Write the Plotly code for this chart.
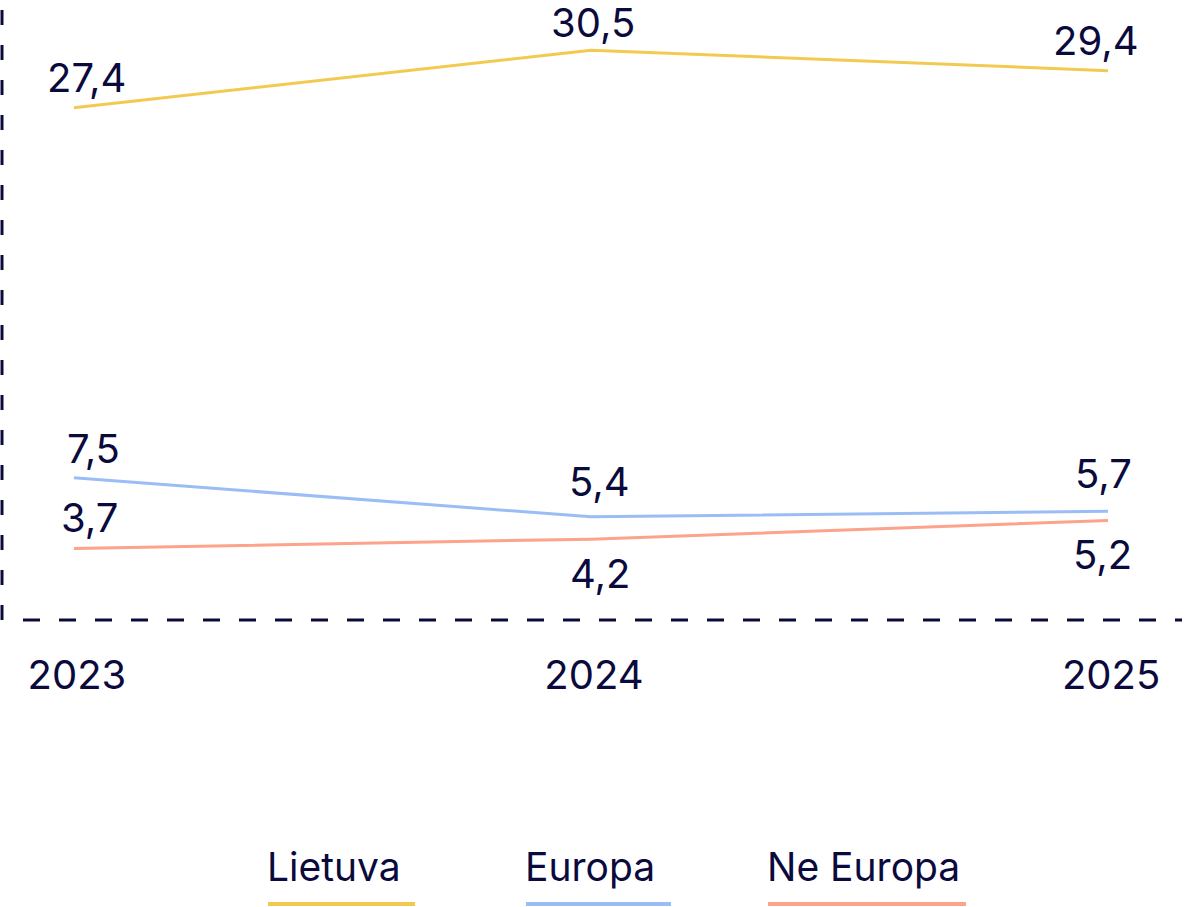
import plotly.graph_objects as go

# data
years = [2023, 2024, 2025]
series_names = ["Lietuva", "Europa", "Ne Europa"]
lietuva = [27.4, 30.5, 29.4]
europa = [7.5, 5.4, 5.7]
ne_europa = [3.7, 4.2, 5.2]
tick_labels = ["2023", "2024", "2025"]

colors = ["#F2CA52", "#9BBDF5", "#FCA38A"]
navy = "#0A0A3C"
font_family = "Inter"

W, H = 1200, 907
ML, MR, MT, MB = 2, 18, 0, 287
PW, PH = W - ML - MR, H - MT - MB


def px_x(px):
    return (px - ML) / PW


def px_y(py):
    return (H - MB - py) / PH


fig = go.Figure()

values = [lietuva, europa, ne_europa]
for name, vals, col in zip(series_names, values, colors):
    fig.add_trace(go.Scatter(
        x=years, y=vals, mode="lines", name=name,
        line=dict(color=col, width=3),
        showlegend=False, hoverinfo="skip",
    ))

# value labels (offsets in px: xshift, yshift)
label_shifts = [
    [(13, 30), (2, 28), (-12, 30)],
    [(20, 29), (9, 35), (-5, 38)],
    [(16, 31), (9, -34), (-6, -34)],
]
annotations = []
for vals, shifts in zip(values, label_shifts):
    for x, v, (dx, dy) in zip(years, vals, shifts):
        annotations.append(dict(
            x=x, y=v, xref="x", yref="y",
            text=f"{v:.1f}".replace(".", ","),
            showarrow=False, xshift=dx, yshift=dy,
            font=dict(family=font_family, size=40, color=navy),
        ))

# custom legend: text above a coloured line
legend_px = [(268, 415), (526, 671), (768, 966)]
shapes = []
for name, col, (x0, x1) in zip(series_names, colors, legend_px):
    annotations.append(dict(
        x=px_x(x0 - 3), y=px_y(866), xref="paper", yref="paper",
        text=name, showarrow=False, xanchor="left", yanchor="middle",
        font=dict(family=font_family, size=39, color=navy),
    ))
    shapes.append(dict(
        type="line", xref="paper", yref="paper",
        x0=px_x(x0), x1=px_x(x1), y0=px_y(904), y1=px_y(904),
        line=dict(color=col, width=4),
    ))

# dashed axis lines
shapes.append(dict(type="line", xref="paper", yref="paper",
                   x0=0, x1=0, y0=0, y1=1,
                   line=dict(color=navy, width=3, dash="15px,20px")))
shapes.append(dict(type="line", xref="paper", yref="paper",
                   x0=px_x(23), x1=1, y0=0, y1=0,
                   line=dict(color=navy, width=3, dash="17px,19px")))

fig.update_layout(
    width=W, height=H,
    margin=dict(l=ML, r=MR, t=MT, b=MB),
    paper_bgcolor="white", plot_bgcolor="white",
    xaxis=dict(
        range=[2022.861, 2025.143],
        tickvals=years, ticktext=tick_labels,
        showgrid=False, zeroline=False, showline=False,
        ticks="", ticklabelstandoff=28, ticklabelshift=3,
        tickfont=dict(family=font_family, size=40, color=navy),
        fixedrange=True,
    ),
    yaxis=dict(
        range=[-0.15, 33.2],
        showgrid=False, zeroline=False, showline=False,
        showticklabels=False, fixedrange=True,
    ),
    annotations=annotations,
    shapes=shapes,
    showlegend=False,
)

fig.write_html("out.html", config={"displayModeBar": False},
               post_script="document.body.style.margin='0';")
